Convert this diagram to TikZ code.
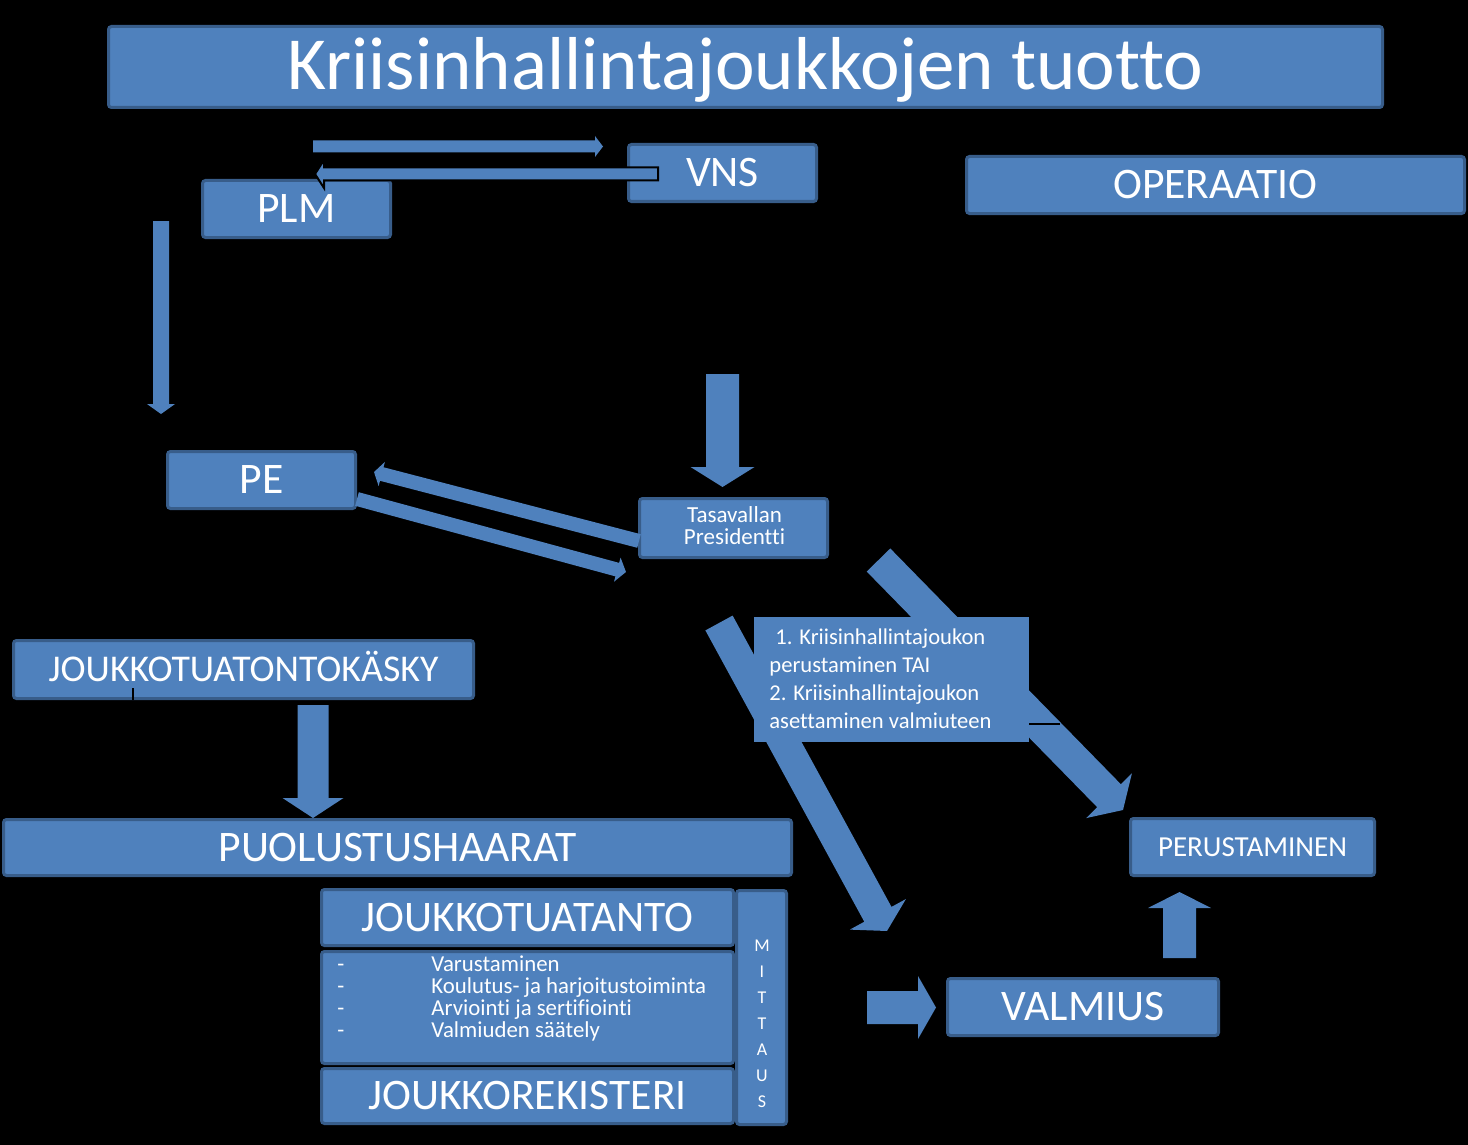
\documentclass[tikz,border=0pt]{standalone}
\usepackage{fontspec}
\setmainfont{Carlito}[Ligatures=CommonOff]
\definecolor{boxblue}{HTML}{4F81BD}
\definecolor{boxedge}{HTML}{385D8A}
\newcommand\blockarrow[6][]{%
  \pgfpointdiff{\pgfpointanchor{#2}{center}}{\pgfpointanchor{#3}{center}}%
  \pgfgetlastxy{\baX}{\baY}%
  \pgfmathsetmacro\baAng{atan2(\baY,\baX)}%
  \pgfmathsetmacro\baLen{veclen(\baX,\baY)}%
  \pgfmathsetmacro\baS{#4*0.5}%
  \pgfmathsetmacro\baH{#5*0.5}%
  \pgfmathsetmacro\baN{\baLen-#6*0.5}%
  \fill[arrowblue, shift={(#2)}, rotate=\baAng, #1]
    (0pt,-\baS pt) -- (\baN pt,-\baS pt) -- (\baN pt,-\baH pt) -- (\baLen pt,0pt)
    -- (\baN pt,\baH pt) -- (\baN pt,\baS pt) -- (0pt,\baS pt) -- cycle;
}
\tikzset{
  box/.style={draw=boxedge, fill=boxblue, line width=1.5pt, rounded corners=1.5pt,
    text=white, inner sep=0pt, align=center},
  plain/.style={fill=boxblue, text=white, inner sep=0pt},
  arrowblue/.style={fill=boxblue},
  f21/.style={font=\fontsize{21.8}{25}\selectfont, text height=13.6pt, text depth=0pt},
  f18/.style={font=\fontsize{18.9}{22}\selectfont, text height=11.8pt, text depth=0pt},
  f14/.style={font=\fontsize{14.5}{17}\selectfont, text height=9.2pt, text depth=0pt},
  smalltext/.style={text=white, inner sep=0pt, align=left},
  tick/.style={draw=black, line width=1pt},
}
\begin{document}
\begin{tikzpicture}[x=0.5pt,y=-0.5pt]
\fill[black] (0,0) rectangle (1468,1145);
\useasboundingbox (0,0) rectangle (1468,1145);

% boxes
\node[box, minimum width=637pt, minimum height=40.5pt,
  font=\fontsize{37.5}{42}\selectfont, text height=22.9pt, text depth=0pt]
  (title) at (745.5,67) {Kriisinhallintajoukkojen tuotto};
\node[box, f21, minimum width=94pt, minimum height=28.5pt] (vns) at (722.5,173) {VNS};
\node[box, f21, minimum width=94pt, minimum height=28.5pt] (plm) at (296.5,209) {PLM};
\node[box, f21, minimum width=249pt, minimum height=28.5pt] (oper) at (1215.5,185) {OPERAATIO};
\node[box, f21, minimum width=94pt, minimum height=28.5pt] (pe) at (261.5,480) {PE};
\node[box, minimum width=94pt, minimum height=29.5pt] (tp) at (733.5,528) {};
\node[smalltext, align=center, font=\fontsize{11.5}{11}\selectfont] (tptext) at (734.5,526) {Tasavallan\\Presidentti};
\node[box, f18, minimum width=230pt, minimum height=29pt] (jtk) at (243.5,669.5) {JOUKKOTUATONTOKÄSKY};
\node[box, f21, minimum width=394pt, minimum height=28pt] (ph) at (397.5,847.5) {PUOLUSTUSHAARAT};
\node[box, f21, minimum width=206pt, minimum height=28pt] (jt) at (527.5,917.5) {JOUKKOTUATANTO};
\node[box, minimum width=206pt, minimum height=56pt] (list) at (527.5,1007.5) {};
\node[smalltext, font=\fontsize{11.4}{10.9}\selectfont, anchor=west] (listtext) at (337,998.4)
  {\makebox[47pt][l]{-}Varustaminen\\
   \makebox[47pt][l]{-}Koulutus- ja harjoitustoiminta\\
   \makebox[47pt][l]{-}Arviointi ja sertifiointi\\
   \makebox[47pt][l]{-}Valmiuden säätely};
\node[box, f21, minimum width=206pt, minimum height=27.5pt] (jr) at (527.5,1096) {JOUKKOREKISTERI};
\node[box, minimum width=25pt, minimum height=117pt] (mitt) at (761.5,1007.5) {};
\node[smalltext, align=center, font=\fontsize{9}{13}\selectfont] (mitttext) at (762,1023.3) {M\\I\\T\\T\\A\\U\\S};
\node[box, f14, minimum width=122pt, minimum height=28.5pt] (per) at (1252.5,847) {PERUSTAMINEN};
\node[box, f21, minimum width=135.5pt, minimum height=28.5pt] (val) at (1083,1007) {VALMIUS};

% arrow end points
\coordinate (a1s) at (313,146.5);   \coordinate (a1e) at (603,146.5);
\coordinate (a2s) at (658,174);     \coordinate (a2e) at (315,174);
\coordinate (a3s) at (161,221);     \coordinate (a3e) at (161,414);
\coordinate (a4s) at (722.5,374);   \coordinate (a4e) at (722.5,487);
\coordinate (a5s) at (639,541);     \coordinate (a5e) at (374,472);
\coordinate (a6s) at (357,499);     \coordinate (a6e) at (626,572);
\coordinate (a7s) at (878.5,560);   \coordinate (a7e) at (1123,810);
\coordinate (a8s) at (719,623);     \coordinate (a8e) at (887,931);
\coordinate (a9s) at (1179.5,958);  \coordinate (a9e) at (1179.5,892);
\coordinate (a10s) at (867,1007.5); \coordinate (a10e) at (936,1007.5);
\coordinate (a11s) at (313,705);    \coordinate (a11e) at (313,818);

\blockarrow{a1s}{a1e}{6}{10.5}{8}
\blockarrow[draw=black, line width=1pt]{a2s}{a2e}{6.5}{14}{9}
\blockarrow{a3s}{a3e}{8}{14}{10}
\blockarrow{a4s}{a4e}{16.5}{32}{20}
\blockarrow{a5s}{a5e}{7}{12.5}{8}
\blockarrow{a6s}{a6e}{7}{12.5}{9}
\blockarrow{a7s}{a7e}{16.5}{32}{20}
\blockarrow{a8s}{a8e}{15.5}{32}{19}
\blockarrow{a9s}{a9e}{16.5}{31.5}{16}
\blockarrow{a10s}{a10e}{16.5}{31.5}{18}
\blockarrow{a11s}{a11e}{15.5}{30.5}{20}

% text box over the diagonal arrows
\node[plain, minimum width=137.5pt, minimum height=62.5pt] (tbox) at (891.5,679.5) {};
\node[smalltext, font=\fontsize{11.3}{13.85}\selectfont, anchor=west] (tboxtext) at (769,678.7)
  {\hspace*{3pt}1. Kriisinhallintajoukon\\
   perustaminen TAI\\
   2. Kriisinhallintajoukon\\
   asettaminen valmiuteen};
\draw[tick] (tbox.east |- 0,723.5) -- (1060,723.5);
\draw[tick] (133,688) -- (jtk.south -| 133,0);
\end{tikzpicture}
\end{document}
